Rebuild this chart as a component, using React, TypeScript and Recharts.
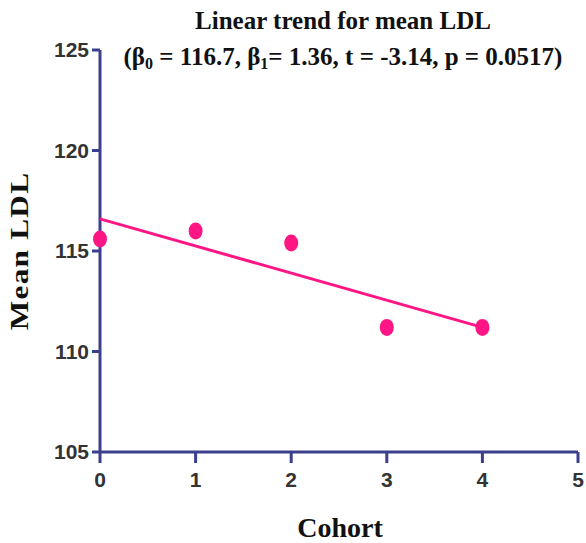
import React from "react";
import { ScatterChart, Scatter, XAxis, YAxis } from "recharts";

// mean LDL by cohort
const cohorts = [0, 1, 2, 3, 4];
const meanLdl = [115.6, 116.0, 115.4, 111.2, 111.2];

// fitted linear trend, end points
const trendX = [0, 4];
const trendY = [116.6, 111.2];

const xTicks = [0, 1, 2, 3, 4, 5];
const yTicks = [105, 110, 115, 120, 125];

const points = cohorts.map((c, i) => ({ x: c, y: meanLdl[i] }));
const trend = trendX.map((c, i) => ({ x: c, y: trendY[i] }));

const AXIS = "#3a3f8e";
const PINK = "#ff1685";
const serif = "'Liberation Serif', 'Times New Roman', serif";
const sans = "'Liberation Sans', Arial, sans-serif";

const tickStyle = { fill: "#333", fontSize: 21, fontFamily: sans, fontWeight: 700 };

const Dot = (props: any) => {
    const { cx, cy } = props;
    if (cx == null || cy == null) return null;
    return <ellipse cx={cx} cy={cy} rx={7} ry={8.5} fill={PINK} />;
};

const App: React.FC = () => (
    <div style={{ position: "absolute", left: 0, top: 0, width: 586, height: 543, background: "#fff" }}>
        <ScatterChart width={586} height={543} margin={{ top: 50, right: 8, bottom: 0, left: 0 }}>
            <XAxis
                type="number"
                dataKey="x"
                domain={[0, 5]}
                ticks={xTicks}
                interval={0}
                height={91}
                axisLine={{ stroke: AXIS, strokeWidth: 3 }}
                tickLine={{ stroke: AXIS, strokeWidth: 3 }}
                tickSize={11}
                tickMargin={9}
                tick={tickStyle}
            />
            <YAxis
                type="number"
                dataKey="y"
                domain={[105, 125]}
                ticks={yTicks}
                interval={0}
                width={100}
                axisLine={{ stroke: AXIS, strokeWidth: 3 }}
                tickLine={{ stroke: AXIS, strokeWidth: 3 }}
                tickSize={8}
                tickMargin={3}
                tick={tickStyle}
            />
            <Scatter
                data={trend}
                line={{ stroke: PINK, strokeWidth: 3 }}
                shape={() => null}
                isAnimationActive={false}
            />
            <Scatter data={points} shape={<Dot />} isAnimationActive={false} />
        </ScatterChart>

        <div
            style={{
                position: "absolute",
                left: 100,
                width: 486,
                top: 3,
                textAlign: "center",
                fontFamily: serif,
                fontWeight: 700,
                fontSize: 25,
                lineHeight: "36px",
                color: "#111",
            }}
        >
            <div>Linear trend for mean LDL</div>
            <div>
                (β<sub style={{ fontSize: 16, verticalAlign: "-4px" }}>0</sub> = 116.7, β
                <sub style={{ fontSize: 16, verticalAlign: "-4px" }}>1</sub>= 1.36, t = -3.14, p = 0.0517)
            </div>
        </div>

        <div
            style={{
                position: "absolute",
                left: 20,
                top: 251,
                transform: "translate(-50%, -50%) rotate(-90deg) scaleX(1.25)",
                whiteSpace: "nowrap",
                fontFamily: serif,
                fontWeight: 700,
                fontSize: 25,
                letterSpacing: 1,
                color: "#111",
            }}
        >
            Mean LDL
        </div>

        <div
            style={{
                position: "absolute",
                left: 340,
                top: 528,
                transform: "translate(-50%, -50%)",
                whiteSpace: "nowrap",
                fontFamily: serif,
                fontWeight: 700,
                fontSize: 28,
                color: "#111",
            }}
        >
            Cohort
        </div>
    </div>
);

export default App;
